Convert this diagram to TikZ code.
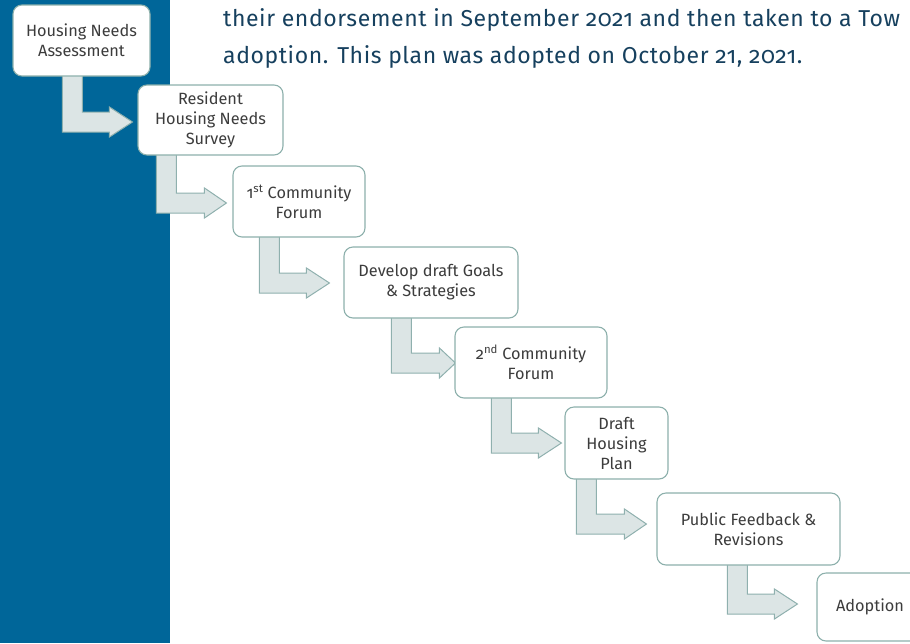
\documentclass[tikz,border=0pt]{standalone}
\usepackage{fontspec}
\setmainfont{Fira Sans}[Numbers=OldStyle]
\newfontfamily\headfont{Fira Sans}[Numbers=OldStyle, LetterSpace=2.5]
\usetikzlibrary{calc}
\definecolor{panelblue}{RGB}{0,102,153}
\definecolor{arrowfill}{RGB}{220,229,229}
\definecolor{arrowline}{RGB}{143,176,174}
\definecolor{boxline}{RGB}{141,176,172}
\definecolor{boxtext}{RGB}{60,60,60}
\definecolor{headtext}{RGB}{22,64,94}
\pgfdeclarelayer{back}
\pgfdeclarelayer{mid}
\pgfsetlayers{back,mid,main}
\tikzset{
  stepbox/.style={draw=boxline, line width=1.1pt, fill=white, rounded corners=9pt,
    align=center, text=boxtext, font=\fontsize{16.3}{20}\selectfont, inner sep=0pt},
  flow/.style={draw=arrowline, line width=1pt, fill=arrowfill},
  headline/.style={anchor=base west, text=headtext, font=\headfont\fontsize{23}{30}\selectfont, inner sep=0pt}
}
% #1 from node, #2 to node, #3 stem offset from left of #1, #4 shaft top y, #5 head length, #6 gap to #2
\newcommand\bentarrow[6]{%
  \draw[flow] let \p1=(#1.south west), \p2=(#2.west) in
    (\x1+#3pt,\y1+2pt) -- (\x1+#3pt+20pt,\y1+2pt) -- (\x1+#3pt+20pt,-#4pt)
    -- (\x2-#6pt-#5pt,-#4pt) -- (\x2-#6pt-#5pt,-#4pt+5pt) -- (\x2-#6pt,-#4pt-10pt)
    -- (\x2-#6pt-#5pt,-#4pt-25pt) -- (\x2-#6pt-#5pt,-#4pt-20pt)
    -- (\x1+#3pt,-#4pt-20pt) -- cycle;}
\begin{document}
\begin{tikzpicture}[x=1pt,y=-1pt]
\clip (0,0) rectangle (910,643);
\useasboundingbox (0,0) rectangle (910,643);
\begin{pgfonlayer}{back}
  \fill[panelblue] (0,0) rectangle (170,643);
\end{pgfonlayer}
\node[headline] (h1) at (223,26) {their endorsement in September 2021 and then taken to a Tow};
\node[headline] (h2) at (223,63) {adoption. This plan was adopted on October 21, 2021.};
\node[stepbox, minimum width=137pt, minimum height=71pt] (b1) at (81.5,40.5) {Housing Needs\\Assessment};
\node[stepbox, minimum width=145pt, minimum height=70pt] (b2) at (210.5,120) {Resident\\Housing Needs\\Survey};
\node[stepbox, minimum width=132pt, minimum height=71pt] (b3) at (299,201.5) {1\textsuperscript{st} Community\\Forum};
\node[stepbox, minimum width=174pt, minimum height=71pt] (b4) at (431,282.5) {Develop draft Goals\\\& Strategies};
\node[stepbox, minimum width=152pt, minimum height=71pt] (b5) at (531,362.5) {2\textsuperscript{nd} Community\\Forum};
\node[stepbox, minimum width=103pt, minimum height=72pt] (b6) at (616.5,443) {Draft\\Housing\\Plan};
\node[stepbox, minimum width=183pt, minimum height=72pt] (b7) at (748.5,529) {Public Feedback \&\\Revisions};
\node[stepbox, minimum width=106pt, minimum height=68pt] (b8) at (870,607) {Adoption};
\begin{pgfonlayer}{mid}
  \bentarrow{b1}{b2}{50}{112}{23}{5}
  \bentarrow{b2}{b3}{19}{193}{22}{6}
  \bentarrow{b3}{b4}{27}{273}{23}{14}
  \bentarrow{b4}{b5}{48}{353}{16}{-1}
  \bentarrow{b5}{b6}{37}{433}{23}{3}
  \bentarrow{b6}{b7}{12}{514}{22}{10}
  \bentarrow{b7}{b8}{71}{594}{23}{19}
\end{pgfonlayer}
\end{tikzpicture}
\end{document}
